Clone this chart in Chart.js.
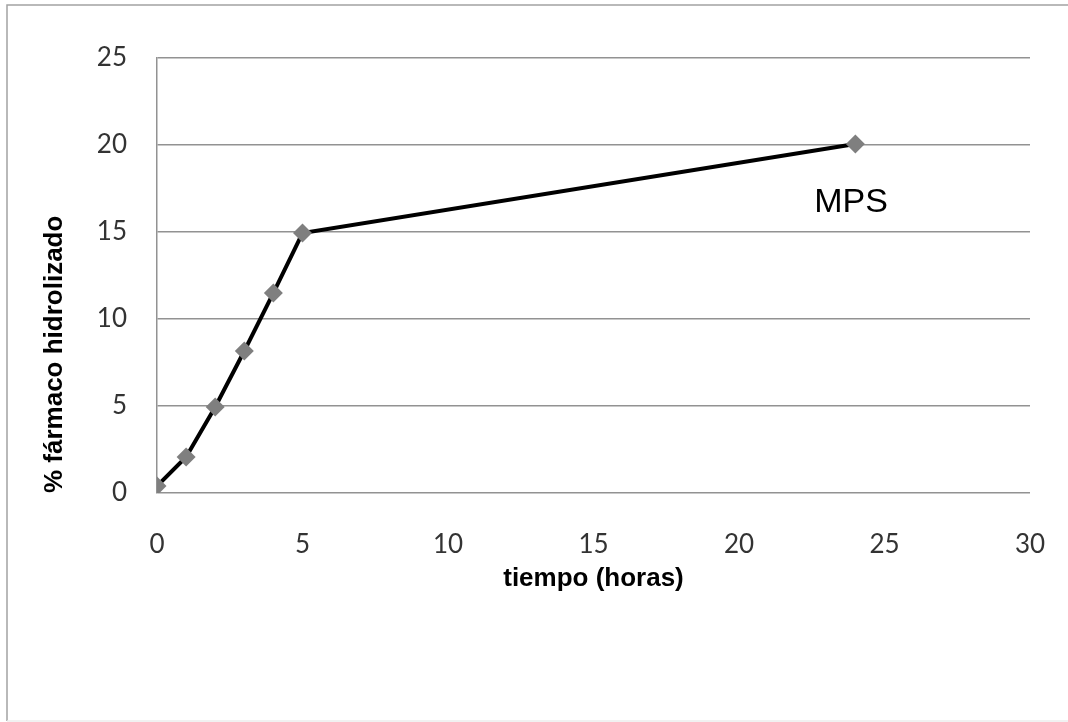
<!DOCTYPE html>
<html>
<head>
<meta charset="utf-8">
<script src="https://cdn.jsdelivr.net/npm/chart.js@4.4.1/dist/chart.umd.min.js"></script>
<style>
  html, body { margin: 0; padding: 0; background: #fff; }
  #wrap { width: 1068px; height: 722px; position: relative; }
</style>
</head>
<body>
<div id="wrap"><canvas id="chart" width="1068" height="722"></canvas></div>
<script>
// datos
const tiempoHoras = [0, 1, 2, 3, 4, 5, 24];
const farmacoHidrolizado = [0.4, 2.07, 4.94, 8.16, 11.5, 14.94, 20.06];
const xTicks = [0, 5, 10, 15, 20, 25, 30];
const yTicks = [0, 5, 10, 15, 20, 25];
const serieNombre = 'MPS';
const etiquetaPos = { x: 23.85, y: 16.67 }; // donde va el texto MPS

const tickFont = { family: 'Lato', size: 26 };
const titleFont = { family: 'Liberation Sans', size: 26, weight: 'bold' };

// borde exterior y etiqueta de la serie
const extras = {
  id: 'extras',
  beforeDraw(chart) {
    const c = chart.ctx;
    c.save();
    c.strokeStyle = '#a3a3a3';
    c.lineWidth = 1.5;
    c.beginPath();
    c.moveTo(7, 721);
    c.lineTo(7, 5);
    c.lineTo(1068, 5);
    c.stroke();
    c.strokeStyle = '#ededed';
    c.beginPath();
    c.moveTo(7, 721);
    c.lineTo(1068, 721);
    c.stroke();
    c.restore();
  },
  afterDatasetsDraw(chart) {
    const c = chart.ctx;
    const xs = chart.scales.x, ys = chart.scales.y;
    c.save();
    c.font = '34px "Liberation Sans"';
    c.fillStyle = '#000';
    c.textAlign = 'center';
    c.textBaseline = 'middle';
    c.fillText(serieNombre, xs.getPixelForValue(etiquetaPos.x), ys.getPixelForValue(etiquetaPos.y));
    c.restore();
  }
};

new Chart(document.getElementById('chart'), {
  type: 'scatter',
  data: {
    datasets: [{
      label: serieNombre,
      data: tiempoHoras.map((t, i) => ({ x: t, y: farmacoHidrolizado[i] })),
      showLine: true,
      borderColor: '#000',
      borderWidth: 4,
      pointStyle: 'rectRot',
      pointRadius: 9.5,
      pointBackgroundColor: '#7f7f7f',
      pointBorderColor: '#7f7f7f',
      pointBorderWidth: 0
    }]
  },
  options: {
    responsive: false,
    animation: false,
    layout: { padding: { top: 58, right: 38, bottom: 0, left: 0 } },
    plugins: {
      legend: { display: false },
      tooltip: { enabled: false }
    },
    scales: {
      x: {
        type: 'linear',
        min: 0,
        max: 30,
        afterBuildTicks: s => { s.ticks = xTicks.map(v => ({ value: v })); },
        afterFit: s => { s.height = 229; s.paddingLeft = 0; s.paddingRight = 0; },
        grid: { display: false, drawTicks: false },
        border: { display: false },
        ticks: { font: tickFont, color: '#333', padding: 36, maxRotation: 0 },
        title: {
          display: true,
          text: 'tiempo (horas)',
          font: titleFont,
          color: '#000',
          padding: { top: 0, bottom: 128 }
        }
      },
      y: {
        type: 'linear',
        min: 0,
        max: 25,
        afterBuildTicks: s => { s.ticks = yTicks.map(v => ({ value: v })); },
        afterFit: s => { s.width = 157; s.paddingTop = 0; s.paddingBottom = 0; },
        grid: { color: '#929292', lineWidth: 1.5, drawTicks: false },
        border: { display: true, color: '#929292', width: 1.5 },
        ticks: { font: tickFont, color: '#333', padding: 30 },
        title: {
          display: true,
          text: '% fármaco hidrolizado',
          font: titleFont,
          color: '#000',
          align: 'start',
          padding: { top: 39, bottom: 0 }
        }
      }
    }
  },
  plugins: [extras]
});
</script>
</body>
</html>
